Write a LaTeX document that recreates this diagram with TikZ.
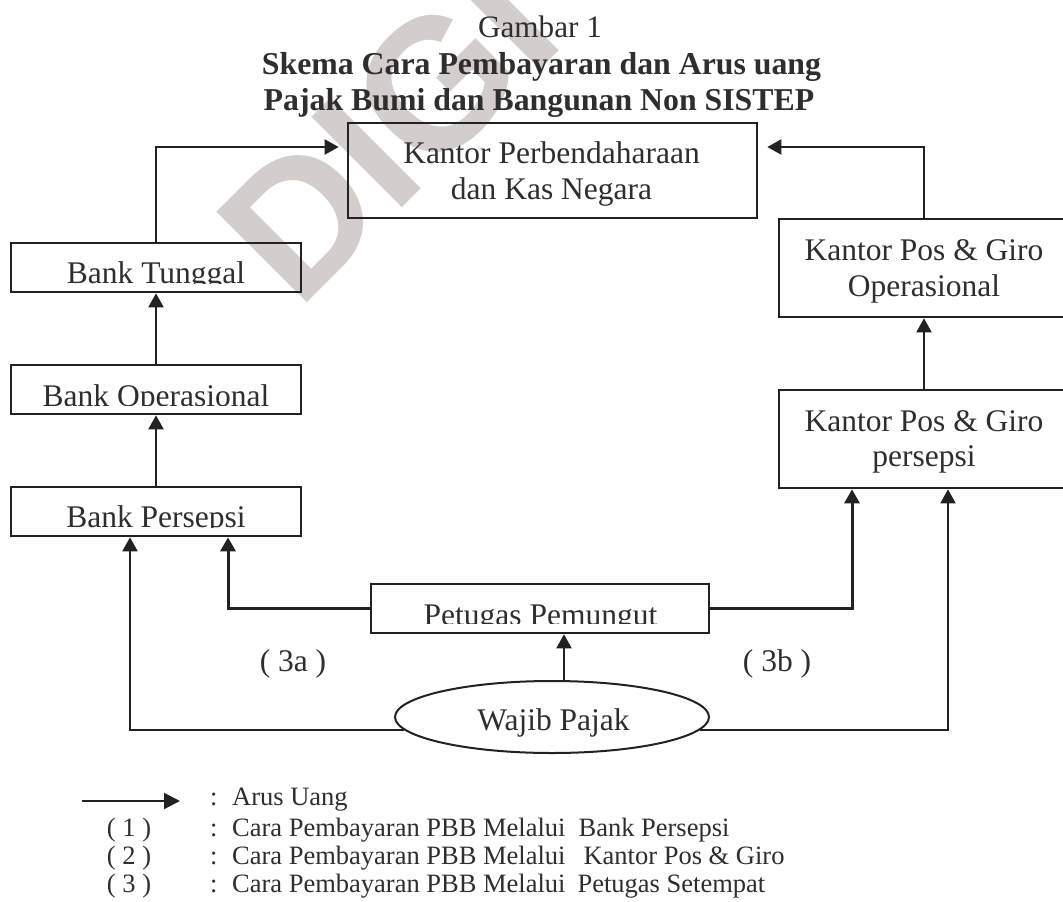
\documentclass[tikz,border=0pt]{standalone}
\usepackage{fontspec}
\setmainfont{Liberation Serif}
\newfontfamily\wmfont{Liberation Sans}
\usetikzlibrary{arrows.meta,shapes.geometric}
\definecolor{ink}{HTML}{222222}
\definecolor{txt}{HTML}{2E2E2E}
\definecolor{wmark}{RGB}{211,205,204}
\begin{document}
\begin{tikzpicture}[x=1pt,y=-1pt,
  box/.style={draw=ink,line width=2.6pt,inner sep=0pt,minimum width=290pt,minimum height=49pt},
  bigbox/.style={box,minimum height=98pt},
  lbl/.style={text=txt,inner sep=0pt,anchor=base,font=\fontsize{31.5}{36}\selectfont},
  ttl/.style={text=txt,inner sep=0pt,anchor=base,font=\fontsize{31.8}{36}\selectfont\bfseries},
  arr/.style={draw=ink,line width=2pt,-{Triangle[width=15pt,length=14pt]}},
  feed/.style={arr,line width=3pt},
  legend/.style={text=txt,inner sep=0pt,anchor=base west,font=\fontsize{26.5}{30}\selectfont}]

\useasboundingbox (0,0) rectangle (1063,902);
\clip (0,0) rectangle (1063,902);

% faint watermark behind the chart
\node[rotate=45,anchor=base west,inner sep=0pt,text=wmark,
      font=\wmfont\bfseries\fontsize{186}{186}\selectfont] (wm) at (298,312) {DIGI};

% headings
\node[lbl,font=\fontsize{31.2}{36}\selectfont] (fig) at (540,37) {Gambar 1};
\node[ttl] (t1) at (541.5,74) {Skema Cara Pembayaran dan Arus uang};
\node[ttl] (t2) at (539,110) {Pajak Bumi dan Bangunan Non SISTEP};

% treasury office
\node[box,minimum width=409pt,minimum height=95pt] (kp) at (552.5,170.5) {};
\node[lbl] (kp1) at (551.5,163) {Kantor Perbendaharaan};
\node[lbl] (kp2) at (551.5,199) {dan Kas Negara};

% bank chain
\node[box] (bt)  at (156,267.5) {};
\node[box] (bop) at (156,389.5) {};
\node[box] (bps) at (156,511.5) {};
\begin{scope}
  \clip (bt.north west) rectangle (bt.east |- 0,283.5);
  \node[lbl] (btl) at (156,283.5) {Bank Tunggal};
\end{scope}
\begin{scope}
  \clip (bop.north west) rectangle (bop.east |- 0,405);
  \node[lbl] (bopl) at (156,406.5) {Bank Operasional};
\end{scope}
\begin{scope}
  \clip (bps.north west) rectangle (bps.east |- 0,527);
  \node[lbl] (bpsl) at (156,527.5) {Bank Persepsi};
\end{scope}

% post office chain
\node[bigbox] (po) at (924,268) {};
\node[lbl] (po1) at (924,260) {Kantor Pos \& Giro};
\node[lbl] (po2) at (924,296) {Operasional};
\node[bigbox] (pp) at (924,439) {};
\node[lbl] (pp1) at (924,431) {Kantor Pos \& Giro};
\node[lbl] (pp2) at (924,466) {persepsi};

% collector
\node[box,minimum width=338pt] (ptg) at (540,608.5) {};
\begin{scope}
  \clip (ptg.north west) rectangle (ptg.east |- 0,623);
  \node[lbl] (ptgl) at (540.5,625) {Petugas Pemungut};
\end{scope}

% taxpayer
\node[ellipse,draw=ink,line width=2pt,minimum width=314pt,minimum height=72pt,inner sep=0pt] (wp) at (552,717) {};
\node[lbl] (wpl) at (553.5,730) {Wajib Pajak};

\node[lbl] (l3a) at (293,671) {( 3a )};
\node[lbl] (l3b) at (777,671) {( 3b )};

% connector end points
\path (kp.west) ++(-8,-23.5) coordinate (kpl);
\path (kp.east) ++(9,-23.5) coordinate (kpr);
\coordinate (bpsA) at ([xshift=-26pt]bps.south);
\coordinate (bpsB) at ([xshift=72pt]bps.south);
\coordinate (ppA) at ([xshift=-72pt]pp.south);
\coordinate (ppB) at ([xshift=24pt]pp.south);
\coordinate (wpt) at ([xshift=12pt]wp.north);

% money flow
\draw[arr] (bps.north) -- (bop.south);
\draw[arr] (bop.north) -- (bt.south);
\draw[arr] (bt.north) |- (kpl);
\draw[arr] (pp.north) -- (po.south);
\draw[arr] (po.north) |- (kpr);
\draw[arr] (wpt) -- (wpt |- ptg.south);
\draw[feed] (ptg.west) -| (bpsB);
\draw[feed] (ptg.east) -| (ppA);
\draw[arr] (wp.185) -| (bpsA);
\draw[arr] (wp.-5) -| (ppB);

% legend
\coordinate (la) at (82,801);
\coordinate (lb) at (180,801);
\draw[arr,-{Triangle[width=16pt,length=16pt]}] (la) -- (lb);
\node[legend] (g0) at (210,805) {:\hspace{14.6pt}Arus Uang};
\node[legend,anchor=base] (n1) at (129,836) {( 1 )};
\node[legend] (g1) at (210,836) {:\hspace{14.6pt}Cara Pembayaran PBB Melalui\hspace{13pt}Bank Persepsi};
\node[legend,anchor=base] (n2) at (129,864) {( 2 )};
\node[legend] (g2) at (210,864) {:\hspace{14.6pt}Cara Pembayaran PBB Melalui\hspace{18pt}Kantor Pos \& Giro};
\node[legend,anchor=base] (n3) at (129,892) {( 3 )};
\node[legend] (g3) at (210,892) {:\hspace{14.6pt}Cara Pembayaran PBB Melalui\hspace{12pt}Petugas Setempat};
\end{tikzpicture}
\end{document}
